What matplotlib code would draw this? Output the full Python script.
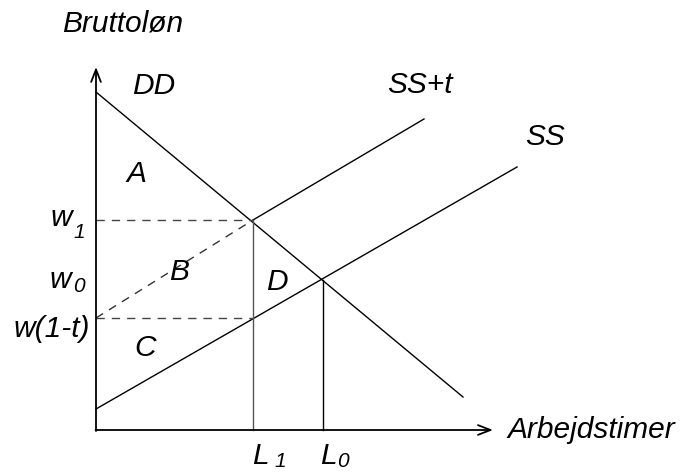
import matplotlib
matplotlib.use("Agg")
import matplotlib.pyplot as plt

# Diagram geometry (pixel-like coordinates, y downward)
origin = (96, 430)
y_axis_top = 67
x_axis_end = 493
dd_x = [96, 463]
dd_y = [92, 397]
ss_x = [96, 517]
ss_y = [409, 167]
sst_solid_x = [253, 424]
sst_solid_y = [220, 119]
sst_dash_x = [96, 253]
sst_dash_y = [318, 220]
w1 = 220
w1t = 318
L1 = 253
L0 = 323
w0 = 280

plt.rcParams['font.family'] = ['Liberation Sans', 'DejaVu Sans']
fig = plt.figure(figsize=(6.85, 4.72), dpi=100)
ax = fig.add_axes([0, 0, 1, 1])
ax.set_xlim(0, 685)
ax.set_ylim(472, 0)
ax.axis('off')

lw = 1.0
# axes with arrows
ax.annotate('', xy=(origin[0], y_axis_top), xytext=(origin[0], origin[1] + 1),
            arrowprops=dict(arrowstyle='->,head_length=0.9,head_width=0.35', lw=1.3, color='black',
                            shrinkA=0, shrinkB=0))
ax.annotate('', xy=(x_axis_end, origin[1]), xytext=(origin[0] - 0.5, origin[1]),
            arrowprops=dict(arrowstyle='->,head_length=0.9,head_width=0.35', lw=1.3, color='black',
                            shrinkA=0, shrinkB=0))

ax.plot(dd_x, dd_y, color='black', lw=lw)
ax.plot(ss_x, ss_y, color='black', lw=lw)
ax.plot(sst_solid_x, sst_solid_y, color='black', lw=lw)
ax.plot(sst_dash_x, sst_dash_y, color='#333333', lw=lw, dashes=(6, 5))
ax.plot([origin[0], L1], [w1, w1], color='#444444', lw=lw, dashes=(6, 5))
ax.plot([origin[0], L1], [w1t, w1t], color='#444444', lw=lw, dashes=(6, 5))
ax.plot([L1, L1], [w1, origin[1]], color='#555555', lw=lw)
ax.plot([L0, L0], [w0, origin[1]], color='black', lw=lw)

fs = 21.5
sub = 15
kw = dict(fontsize=fs, style='italic', color='black')
ax.text(123, 24, 'Bruttoløn', ha='center', va='center', **kw)
ax.text(154, 86, 'DD', ha='center', va='center', **kw)
ax.text(420, 85, 'SS+t', ha='center', va='center', **kw)
ax.text(545, 137, 'SS', ha='center', va='center', **kw)
ax.text(136, 174, 'A', ha='center', va='center', **kw)
ax.text(179, 272, 'B', ha='center', va='center', **kw)
ax.text(145, 348, 'C', ha='center', va='center', **kw)
ax.text(277, 282, 'D', ha='center', va='center', **kw)
ax.text(507, 430, 'Arbejdstimer', ha='left', va='center', **kw)

# wage labels
ax.text(61, 226, 'w', ha='center', va='baseline', **kw)
ax.text(79, 238, '1', ha='center', va='baseline', fontsize=sub, style='italic')
ax.text(60, 288, 'w', ha='center', va='baseline', **kw)
ax.text(79, 292, '0', ha='center', va='baseline', fontsize=sub, style='italic')
ax.text(90, 337, 'w(1-t)', ha='right', va='baseline', **kw)

# quantity labels
ax.text(260, 464, 'L', ha='center', va='baseline', **kw)
ax.text(280, 467, '1', ha='center', va='baseline', fontsize=sub, style='italic')
ax.text(328, 464, 'L', ha='center', va='baseline', **kw)
ax.text(343, 467, '0', ha='center', va='baseline', fontsize=sub, style='italic')

fig.savefig('out.png', dpi=100)
